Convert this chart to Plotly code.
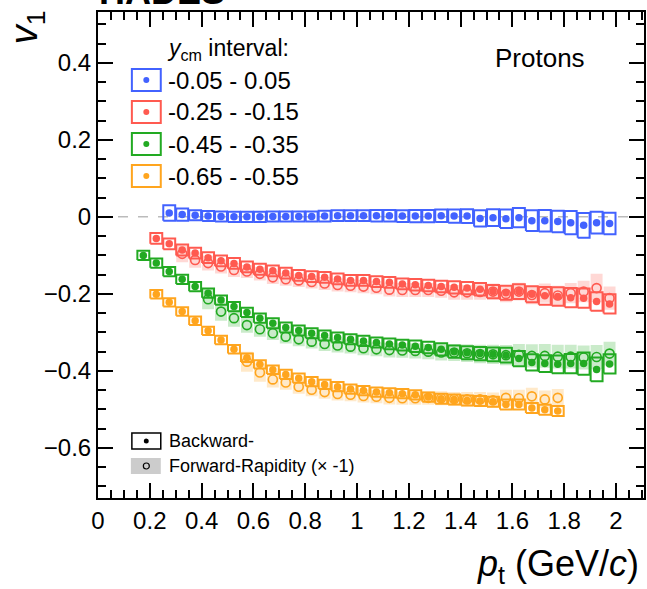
import plotly.graph_objects as go

# ---------------- data ----------------
PT = [0.175, 0.225, 0.275, 0.325, 0.375, 0.425, 0.475, 0.525, 0.575, 0.625,
      0.675, 0.725, 0.775, 0.825, 0.875, 0.925, 0.975, 1.025, 1.075, 1.125,
      1.175, 1.225, 1.275, 1.325, 1.375, 1.425, 1.475, 1.525, 1.575, 1.625,
      1.675, 1.725, 1.775, 1.825, 1.875, 1.925, 1.975]

Y_LABELS = ["-0.05 - 0.05", "-0.25 - -0.15", "-0.45 - -0.35", "-0.65 - -0.55"]

# y_cm -0.05 - 0.05 (backward only)
blue_pt = PT[2:]
blue_v1 = [0.010, 0.006, 0.004, 0.002, 0.001, 0.000, 0.000, 0.000, 0.001, 0.001,
           0.001, 0.001, 0.002, 0.003, 0.003, 0.003, 0.003,
           0.003, 0.002, 0.002, 0.002, 0.003, 0.002, 0.002, -0.004, -0.002,
           -0.005, -0.002, -0.010, -0.010, -0.012, -0.015, -0.022, -0.015, -0.017]
blue_sys = [0.020, 0.016, 0.013, 0.013, 0.013, 0.013, 0.013, 0.013, 0.013, 0.013,
            0.013, 0.013, 0.014, 0.014, 0.014, 0.014, 0.015,
            0.015, 0.015, 0.016, 0.016, 0.016, 0.017, 0.018, 0.021, 0.022,
            0.024, 0.025, 0.027, 0.028, 0.028, 0.030, 0.032, 0.028, 0.028]

# y_cm -0.25 - -0.15
red_pt = PT[1:]
red_v1 = [-0.056, -0.070, -0.086, -0.094, -0.106, -0.114, -0.121, -0.130, -0.136,
          -0.140, -0.146, -0.152, -0.155, -0.157, -0.161, -0.165, -0.165, -0.168,
          -0.170, -0.174, -0.176, -0.178, -0.181, -0.183, -0.185, -0.188, -0.194,
          -0.197, -0.194, -0.201, -0.205, -0.207, -0.210, -0.211, -0.220, -0.226]
red_sys = [0.014, 0.014, 0.014, 0.014, 0.014, 0.014, 0.014, 0.014, 0.014,
           0.014, 0.014, 0.014, 0.014, 0.014, 0.014, 0.014, 0.014, 0.014,
           0.014, 0.014, 0.015, 0.015, 0.015, 0.016, 0.016, 0.016, 0.017,
           0.018, 0.019, 0.021, 0.023, 0.024, 0.025, 0.025, 0.024, 0.025]
red_fpt = PT[3:]
red_fv1 = [-0.096, -0.112, -0.120, -0.129, -0.138, -0.142, -0.148, -0.157, -0.162,
           -0.165, -0.169, -0.173, -0.177, -0.179, -0.181, -0.184,
           -0.189, -0.190, -0.190, -0.190, -0.192, -0.196, -0.196, -0.195, -0.194,
           -0.200, -0.194, -0.203, -0.198, -0.204, -0.198, -0.194, -0.185, -0.211]
red_fsys = [0.022, 0.020, 0.019, 0.018, 0.018, 0.017, 0.017, 0.017, 0.017,
            0.017, 0.017, 0.017, 0.017, 0.017, 0.017, 0.017,
            0.018, 0.018, 0.018, 0.018, 0.018, 0.019, 0.019, 0.020, 0.021,
            0.022, 0.023, 0.024, 0.025, 0.025, 0.026, 0.028, 0.037, 0.030]

# y_cm -0.45 - -0.35
green_pt = PT
green_v1 = [-0.100, -0.120, -0.142, -0.162, -0.181, -0.198, -0.216, -0.233, -0.248,
            -0.263, -0.276, -0.287, -0.295, -0.302, -0.308, -0.313, -0.318, -0.322,
            -0.326, -0.330, -0.333, -0.336, -0.339, -0.344, -0.350, -0.353, -0.355,
            -0.357, -0.359, -0.368, -0.378, -0.381, -0.383, -0.381, -0.381, -0.396,
            -0.382]
green_sys = [0.012, 0.012, 0.012, 0.012, 0.012, 0.012, 0.012, 0.012, 0.012,
             0.012, 0.013, 0.013, 0.013, 0.013, 0.013, 0.013, 0.013, 0.013,
             0.013, 0.014, 0.014, 0.015, 0.015, 0.016, 0.016, 0.017, 0.017,
             0.018, 0.019, 0.020, 0.021, 0.022, 0.023, 0.025, 0.029, 0.031,
             0.025]
green_fpt = PT[5:]
green_fv1 = [-0.214, -0.246, -0.263, -0.281, -0.292, -0.302, -0.311, -0.318, -0.324,
             -0.330, -0.334, -0.337, -0.341, -0.344,
             -0.346, -0.347, -0.348, -0.350, -0.352, -0.352, -0.354, -0.356, -0.357,
             -0.359, -0.358, -0.361, -0.361, -0.363, -0.363, -0.365, -0.364, -0.355]
green_fsys = [0.026, 0.024, 0.022, 0.020, 0.019, 0.018, 0.018, 0.018, 0.018,
              0.018, 0.018, 0.018, 0.018, 0.018,
              0.019, 0.019, 0.020, 0.020, 0.021, 0.022, 0.023, 0.024, 0.025,
              0.026, 0.028, 0.030, 0.031, 0.031, 0.031, 0.031, 0.031, 0.031]

# y_cm -0.65 - -0.55
orange_pt = PT[1:33]
orange_v1 = [-0.201, -0.222, -0.246, -0.270, -0.296, -0.320, -0.344, -0.366, -0.383,
             -0.397, -0.409, -0.419, -0.428, -0.435, -0.441, -0.447, -0.451, -0.455,
             -0.457, -0.459, -0.462, -0.468, -0.472, -0.474, -0.477, -0.478, -0.480,
             -0.487, -0.487, -0.496, -0.501, -0.504]
orange_sys = [0.011, 0.011, 0.011, 0.011, 0.011, 0.011, 0.011, 0.011, 0.011,
              0.011, 0.012, 0.012, 0.012, 0.012, 0.012, 0.012, 0.012, 0.012,
              0.012, 0.012, 0.012, 0.012, 0.013, 0.013, 0.013, 0.013, 0.013,
              0.013, 0.013, 0.013, 0.013, 0.013]
orange_fpt = PT[8:33]
orange_fv1 = [-0.376, -0.404, -0.422, -0.430, -0.441, -0.449, -0.455, -0.460, -0.462,
              -0.465, -0.467,
              -0.470, -0.471, -0.471, -0.470, -0.471, -0.473, -0.474, -0.474, -0.476,
              -0.470, -0.471, -0.466, -0.474, -0.470]
orange_fsys = [0.026, 0.024, 0.021, 0.019, 0.018, 0.017, 0.017, 0.017, 0.017,
               0.017, 0.017,
               0.017, 0.017, 0.017, 0.018, 0.018, 0.018, 0.019, 0.019, 0.020,
               0.021, 0.022, 0.022, 0.023, 0.023]

COLORS = [(66, 98, 255), (255, 90, 80), (34, 170, 34), (255, 165, 30)]

# ---------------- helpers ----------------
W, H = 647, 589
L, R, T, B = 98, 646, 12, 498
XMAX = 2.108
YMIN, YMAX = -0.73, 0.532
HW = 0.023


def px(x):
    return (x - L) / (R - L)


def py(y):
    return (B - y) / (B - T)


def rgb(c, a=None):
    if a is None:
        return "rgb(%d,%d,%d)" % c
    return "rgba(%d,%d,%d,%.2f)" % (c + (a,))


def boxes(xs, ys, es):
    bx, by = [], []
    for x, y, e in zip(xs, ys, es):
        bx += [x - HW, x + HW, x + HW, x - HW, x - HW, None]
        by += [y - e, y - e, y + e, y + e, y - e, None]
    return bx, by


back = [(blue_pt, blue_v1, blue_sys), (red_pt, red_v1, red_sys),
        (green_pt, green_v1, green_sys), (orange_pt, orange_v1, orange_sys)]
fwd = [None, (red_fpt, red_fv1, red_fsys), (green_fpt, green_fv1, green_fsys),
       (orange_fpt, orange_fv1, orange_fsys)]

fig = go.Figure()

# forward shaded systematic boxes
for c, f in zip(COLORS, fwd):
    if f is None:
        continue
    bx, by = boxes(*f)
    fig.add_trace(go.Scatter(x=bx, y=by, mode="lines", fill="toself",
                             fillcolor=rgb(c, 0.24), line=dict(width=0),
                             hoverinfo="skip", showlegend=False))

# backward open systematic boxes
for c, b in zip(COLORS, back):
    bx, by = boxes(*b)
    fig.add_trace(go.Scatter(x=bx, y=by, mode="lines",
                             line=dict(color=rgb(c), width=2),
                             hoverinfo="skip", showlegend=False))

# forward open markers
for c, f in zip(COLORS, fwd):
    if f is None:
        continue
    fig.add_trace(go.Scatter(x=f[0], y=f[1], mode="markers",
                             marker=dict(symbol="circle-open", size=9,
                                         color=rgb(c), line=dict(width=1.6)),
                             showlegend=False))

# backward filled markers
for c, b in zip(COLORS, back):
    fig.add_trace(go.Scatter(x=b[0], y=b[1], mode="markers",
                             marker=dict(symbol="circle", size=7.5, color=rgb(c),
                                         line=dict(width=0)),
                             showlegend=False))

shapes = []
# zero line
shapes.append(dict(type="line", xref="x", yref="y", x0=0, x1=XMAX, y0=0, y1=0,
                   line=dict(color="#BBBBBB", width=1.5, dash="10px,10px"),
                   layer="below"))

annotations = []
FONT = "Liberation Sans, Arial, Helvetica, sans-serif"


def text(x, y, s, size, xanchor="left", yanchor="middle", **kw):
    annotations.append(dict(x=px(x), y=py(y), xref="paper", yref="paper",
                            text=s, showarrow=False, xanchor=xanchor,
                            yanchor=yanchor,
                            font=dict(family=FONT, size=size, color="black"),
                            **kw))


# legend (colored)
text(165, 50, "<i>y</i><sub>cm</sub> interval:", 23)
for i, (c, lab) in enumerate(zip(COLORS, Y_LABELS)):
    cy = 80 + 32 * i
    shapes.append(dict(type="rect", xref="paper", yref="paper",
                       x0=px(132), x1=px(161), y0=py(cy + 11), y1=py(cy - 11),
                       line=dict(color=rgb(c), width=2)))
    shapes.append(dict(type="circle", xref="paper", yref="paper",
                       x0=px(143.5), x1=px(149.5), y0=py(cy + 3), y1=py(cy - 3),
                       fillcolor=rgb(c), line=dict(width=0)))
    text(166, cy, lab, 24)

# legend (black)
shapes.append(dict(type="rect", xref="paper", yref="paper",
                   x0=px(132), x1=px(161), y0=py(449), y1=py(433),
                   line=dict(color="black", width=1.5)))
shapes.append(dict(type="circle", xref="paper", yref="paper",
                   x0=px(144), x1=px(149), y0=py(443.5), y1=py(438.5),
                   fillcolor="black", line=dict(width=0)))
text(167, 441, "Backward-", 18)
shapes.append(dict(type="rect", xref="paper", yref="paper",
                   x0=px(131), x1=px(161), y0=py(474), y1=py(458),
                   fillcolor="#CCCCCC", line=dict(width=0)))
shapes.append(dict(type="circle", xref="paper", yref="paper",
                   x0=px(143.5), x1=px(149.5), y0=py(469), y1=py(463),
                   line=dict(color="black", width=1.2)))
text(167, 466, "Forward-Rapidity (× -1)", 18)

# other texts
text(542, 58, "Protons", 26, xanchor="center")
text(643, 566, "<i>p</i><sub>t</sub> (GeV/<i>c</i>)", 36, xanchor="right")
text(27, 27, "<i>v</i><sub>1</sub>", 38, xanchor="center", textangle=-90)
text(97, 14, "<b>HADES</b>", 36, yanchor="bottom")

axis_common = dict(showline=True, linecolor="black", linewidth=2, mirror="ticks",
                   ticks="inside", ticklen=15, tickwidth=2, tickcolor="black",
                   showgrid=False, zeroline=False,
                   tickfont=dict(family=FONT, size=24, color="black"),
                   minor=dict(ticks="inside", ticklen=8, tickwidth=1.5,
                              tickcolor="black", dtick=0.05, showgrid=False))

fig.update_layout(
    width=W, height=H,
    margin=dict(l=L, r=W - R, t=T, b=H - B),
    paper_bgcolor="white", plot_bgcolor="white",
    showlegend=False,
    xaxis=dict(range=[0, XMAX], tick0=0, dtick=0.2, **axis_common),
    yaxis=dict(range=[YMIN, YMAX], tick0=0, dtick=0.2, **axis_common),
    shapes=shapes, annotations=annotations,
)

fig.write_html("out.html")
